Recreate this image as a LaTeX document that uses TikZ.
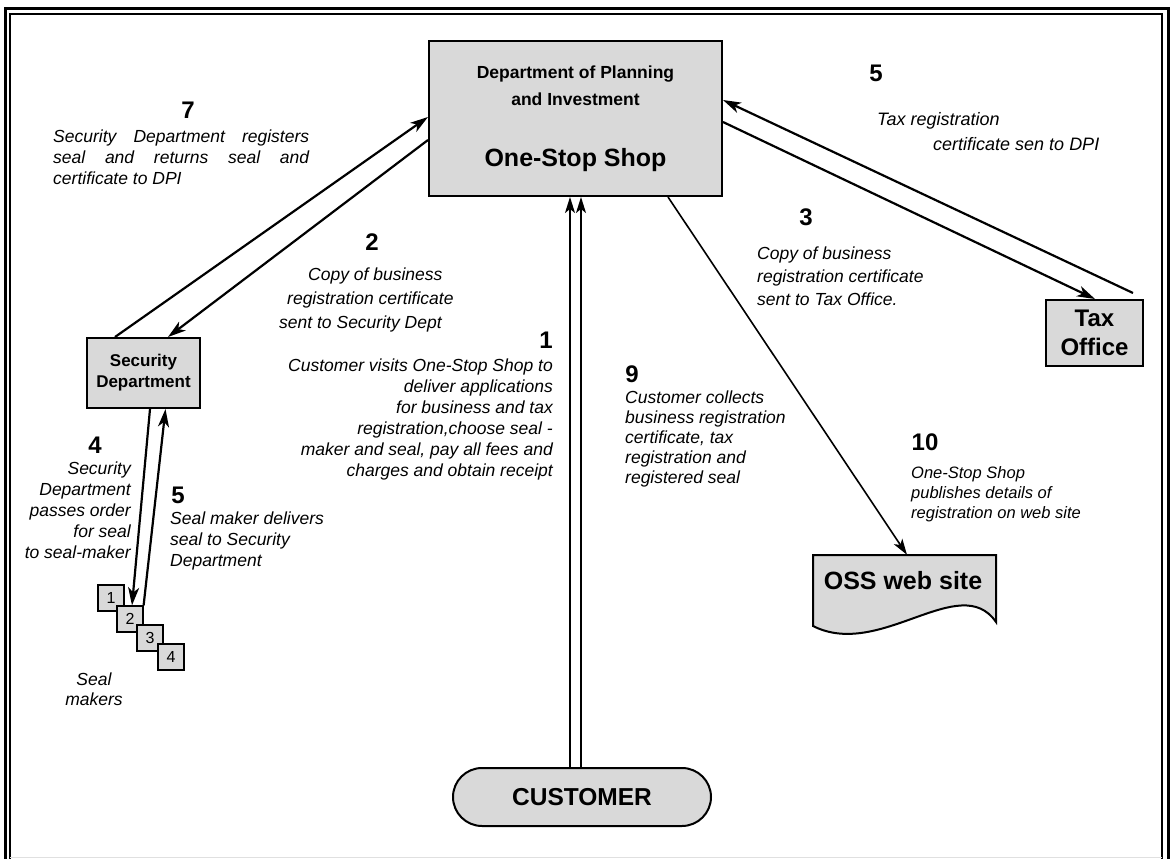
\documentclass[tikz,border=0pt]{standalone}
\usepackage{fontspec}
\setmainfont{Liberation Sans}
\usetikzlibrary{arrows.meta,calc}
\definecolor{boxgray}{RGB}{217,217,217}
\begin{document}
\begin{tikzpicture}[x=1pt,y=-1pt,
  lbl/.style={font=\itshape\fontsize{17.5}{21}\selectfont, inner sep=0pt},
  num/.style={font=\bfseries\fontsize{24}{28}\selectfont, inner sep=0pt, anchor=base},
  boxnode/.style={draw, line width=2pt, fill=boxgray, inner sep=0pt},
  arr/.style={line width=2.2pt, -{Stealth[length=18pt,width=11pt,inset=5pt]}},
  thinarr/.style={line width=1.6pt, -{Stealth[length=16pt,width=10pt,inset=4pt]}},
  sealbox/.style={draw, line width=1.2pt, fill=boxgray, minimum size=26pt, inner sep=0pt, font=\fontsize{16}{16}\selectfont}
]
\useasboundingbox (0,0) rectangle (1171,859);
\fill[white] (0,0) rectangle (1171,859);
% frame
\draw[line width=3pt] (5,859) -- (5,9) -- (1168,9) -- (1168,859);
\draw[line width=1.2pt] (10,859) -- (10,14) -- (1162,14) -- (1162,859);
\draw[black!12, line width=1pt] (10,857.5) -- (1162,857.5);

% main boxes
\node[boxnode, minimum width=293pt, minimum height=155pt] (dpi) at (575.5,118.5) {};
\node[font=\bfseries\fontsize{17.5}{21}\selectfont, anchor=base, inner sep=0pt] (dpiA) at (575.5,79) {Department of Planning};
\node[font=\bfseries\fontsize{17.5}{21}\selectfont, anchor=base, inner sep=0pt] (dpiB) at (575.5,106) {and Investment};
\node[font=\bfseries\fontsize{25}{30}\selectfont, anchor=base, inner sep=0pt] (dpiC) at (575.5,166) {One-Stop Shop};

\node[boxnode, minimum width=113pt, minimum height=70pt, align=center, font=\bfseries\fontsize{17}{21}\selectfont] (sec) at (143.5,373) {Security\\Department};
\node[boxnode, minimum width=97pt, minimum height=66pt, align=center, font=\bfseries\fontsize{24}{29}\selectfont] (tax) at (1094.5,333) {Tax\\Office};
\node[boxnode, rounded corners=29pt, minimum width=258pt, minimum height=58pt, font=\bfseries\fontsize{24.5}{29}\selectfont] (cust) at (582,797) {CUSTOMER};

% OSS web site (document shape)
\node[inner sep=0pt, minimum width=183pt, minimum height=71pt] (oss) at (904.5,590.5) {};
\draw[line width=2pt, fill=boxgray] (813,626) -- (813,555) -- (996,555) -- (996,622) .. controls (960,570) and (880,660) .. (813,626) -- cycle;
\node[font=\bfseries\fontsize{25}{30}\selectfont, anchor=base, inner sep=0pt] (osst) at (903,589) {OSS web site};

% seal makers
\node[sealbox] (m1) at (111,598) {1};
\node[sealbox] (m2) at (130,619) {2};
\node[sealbox] (m3) at (150,638) {3};
\node[sealbox] (m4) at (171,657) {4};

% connectors
\draw[arr] ([xshift=-28.5pt]sec.north) -- ([yshift=1.5pt]dpi.west);
\draw[arr] ([yshift=-21.5pt]dpi.west) -- ([xshift=24.5pt]sec.north);
\draw[arr] ([xshift=38.5pt,yshift=6pt]tax.north) -- ([yshift=18.5pt]dpi.east);
\draw[arr] ([yshift=-3.5pt]dpi.east) -- ([xshift=0.5pt]tax.north);
\draw[thinarr] ([xshift=92.5pt]dpi.south) -- ([xshift=2.5pt]oss.north);
\draw[thinarr] ([xshift=-12pt]cust.north) -- ([xshift=-5.5pt]dpi.south);
\draw[thinarr] ([xshift=-1pt]cust.north) -- ([xshift=5.5pt]dpi.south);
\draw[arr] ([xshift=6.5pt]sec.south) -- ([xshift=2pt]m2.north);
\draw[arr] (m2.north east) -- ([xshift=22pt]sec.south);

% labels
\node[num] (n7) at (188,118.5) {7};
\node[lbl, anchor=north west, align=left] (t7) at (53,130) {\makebox[256pt][s]{Security Department registers}\\\makebox[256pt][s]{seal and returns seal and}\\certificate to DPI};

\node[num] (n2) at (372,250.5) {2};
\node[lbl, anchor=north west, align=left, font=\itshape\fontsize{17.5}{24}\selectfont] (t2) at (279,268) {\hspace*{29pt}Copy of business\\\hspace*{8pt}registration certificate\\sent to Security Dept};

\node[num, anchor=base east] (n1) at (553,348.5) {1};
\node[lbl, anchor=north east, align=right] (t1) at (553,359) {Customer visits One-Stop Shop to\\deliver applications\\for business and tax\\registration,choose seal -\\maker and seal, pay all fees and\\charges and obtain receipt};

\node[num] (n3) at (806,225.5) {3};
\node[lbl, anchor=north west, align=left, font=\itshape\fontsize{17.5}{23}\selectfont] (t3) at (757,247) {Copy of business\\registration certificate\\sent to Tax Office.};

\node[num] (n5a) at (876,81.5) {5};
\node[lbl, anchor=north west, align=left, font=\itshape\fontsize{18}{25}\selectfont] (t5a) at (877,112) {Tax registration\\\hspace*{56pt}certificate sen to DPI};

\node[num] (n4) at (95,453.5) {4};
\node[lbl, anchor=north east, align=right] (t4) at (131,462) {Security\\Department\\passes order\\for seal\\to seal-maker};

\node[num] (n5b) at (178,503.5) {5};
\node[lbl, anchor=north west, align=left] (t5b) at (170,512) {Seal maker delivers\\seal to Security\\Department};

\node[num] (n9) at (632,382.5) {9};
\node[lbl, anchor=north west, align=left, font=\itshape\fontsize{17.5}{20}\selectfont] (t9) at (625,391) {Customer collects\\business registration\\certificate, tax\\registration and\\registered seal};

\node[num] (n10) at (925,450.5) {10};
\node[lbl, anchor=north west, align=left, font=\itshape\fontsize{16.5}{20}\selectfont] (t10) at (911,466) {One-Stop Shop\\publishes details of\\registration on web site};

\node[lbl, anchor=north, align=center, font=\itshape\fontsize{17.5}{20}\selectfont] (tseal) at (94,673) {Seal\\makers};
\end{tikzpicture}
\end{document}
